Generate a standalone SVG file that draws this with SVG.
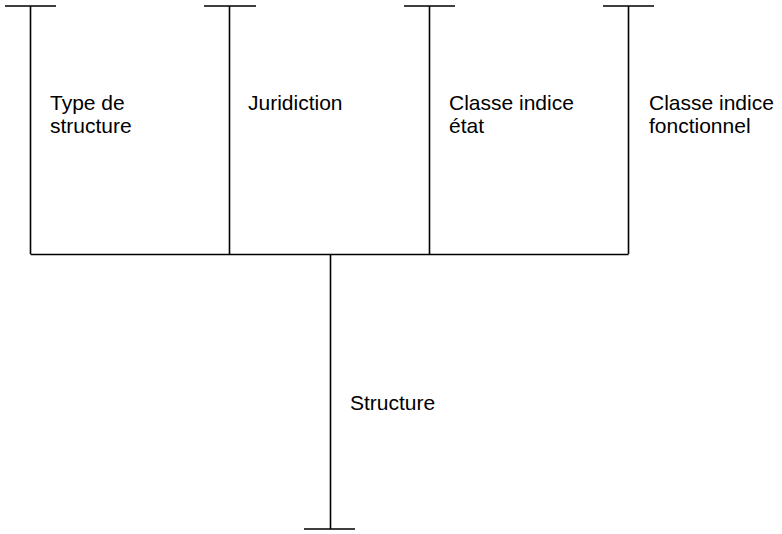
<svg xmlns="http://www.w3.org/2000/svg" width="782" height="534" viewBox="0 0 782 534">
  <style>
    .ln { stroke: #000; stroke-width: 1.6; fill: none; }
    .lbl { font-family: "Liberation Sans", Arial, sans-serif; font-size: 21px; fill: #000; }
  </style>
  <rect width="782" height="534" fill="#fff"/>
  <g id="connectors">
    <!-- branches from top entities -->
    <path class="ln" d="M5,6 H56 M30.5,6 V254"/>
    <path class="ln" d="M204,6 H256 M229.5,6 V254"/>
    <path class="ln" d="M404,6 H455 M429.5,6 V254"/>
    <path class="ln" d="M603,6 H654 M628.5,6 V254"/>
    <!-- common bus -->
    <path class="ln" d="M30.5,254.5 H628.5"/>
    <!-- trunk down to Structure -->
    <path class="ln" d="M330.5,254 V529 M304,529 H355"/>
  </g>
  <g id="type-de-structure">
    <text class="lbl" x="50" y="110">Type de</text>
    <text class="lbl" x="50" y="133">structure</text>
  </g>
  <g id="juridiction">
    <text class="lbl" x="248" y="110">Juridiction</text>
  </g>
  <g id="classe-indice-etat">
    <text class="lbl" x="449" y="110">Classe indice</text>
    <text class="lbl" x="449" y="133">état</text>
  </g>
  <g id="classe-indice-fonctionnel">
    <text class="lbl" x="649" y="110">Classe indice</text>
    <text class="lbl" x="649" y="133">fonctionnel</text>
  </g>
  <g id="structure">
    <text class="lbl" x="350" y="410">Structure</text>
  </g>
</svg>
